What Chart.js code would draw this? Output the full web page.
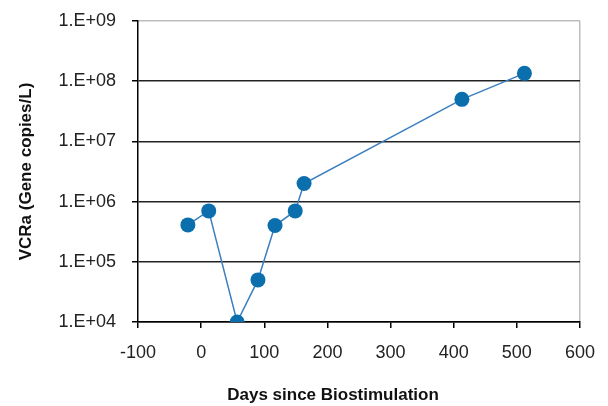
<!DOCTYPE html>
<html>
<head>
<meta charset="utf-8">
<script src="https://cdn.jsdelivr.net/npm/chart.js@4/dist/chart.umd.min.js"></script>
<style>
  html, body { margin: 0; padding: 0; background: #fff; }
  #wrap { width: 608px; height: 406px; }
</style>
</head>
<body>
<div id="wrap"><canvas id="c" width="608" height="406"></canvas></div>
<script>
"use strict";

// ---- data ----
const days = [-21, 12, 57, 90, 117, 149, 163, 413, 512];
const copies = [4.1e5, 7.0e5, 1.0e4, 5.0e4, 4.0e5, 7.0e5, 2.0e6, 5.0e7, 1.35e8];
const yTicks = [1e4, 1e5, 1e6, 1e7, 1e8, 1e9];
const xTicks = [-100, 0, 100, 200, 300, 400, 500, 600];

const FONT = "'Liberation Sans', Arial, sans-serif";
const LINE = "#3b7fc0";
const DOT = "#0b6fad";

function expLabel(v) {
  const e = Math.round(Math.log10(v));
  return "1.E+" + String(e).padStart(2, "0");
}

new Chart(document.getElementById("c"), {
  type: "scatter",
  data: {
    datasets: [{
      data: days.map((d, i) => ({ x: d, y: copies[i] })),
      showLine: true,
      borderColor: LINE, borderWidth: 1.5,
      pointRadius: 7.5, pointHoverRadius: 7.5,
      pointBackgroundColor: DOT, pointBorderColor: DOT, pointBorderWidth: 0,
    }],
  },
  options: {
    animation: false, responsive: false,
    layout: { padding: { left: 0, right: 28, top: 21, bottom: 0 } },
    plugins: { legend: { display: false }, tooltip: { enabled: false } },
    scales: {
      x: {
        type: "linear", min: -100, max: 600,
        afterBuildTicks: (s) => { s.ticks = xTicks.map((v) => ({ value: v })); },
        afterFit: (s) => { s.height = 84; s.paddingLeft = 0; s.paddingRight = 0; },
        border: { color: "#000", width: 1.5 },
        grid: {
          color: (c) => (c.tick && c.tick.value === 600 ? "#c0bcbc" : "transparent"),
          tickColor: "#000", tickLength: 6, lineWidth: 1.5,
        },
        ticks: { color: "#222", font: { family: FONT, size: 18 }, padding: 14, maxRotation: 0 },
        title: {
          display: true,
          text: "Days since Biostimulation" + "\u00a0".repeat(11),
          color: "#111", font: { family: FONT, size: 17, weight: "bold" },
          padding: { top: 11, bottom: 0 },
        },
      },
      y: {
        type: "logarithmic", min: 1e4, max: 1e9,
        afterBuildTicks: (s) => { s.ticks = yTicks.map((v) => ({ value: v })); },
        afterFit: (s) => { s.width = 138; s.paddingTop = 0; s.paddingBottom = 0; },
        border: { color: "#000", width: 1.5 },
        grid: {
          color: (c) => (c.tick && c.tick.value === 1e9 ? "#c0bcbc" : "#222"),
          tickColor: "#000", tickLength: 6, lineWidth: 1.5,
        },
        ticks: { color: "#222", font: { family: FONT, size: 18 }, padding: 16, callback: (v) => expLabel(v) },
        title: {
          display: true, text: "VCRa (Gene copies/L)",
          color: "#111", font: { family: FONT, size: 17, weight: "bold" },
          padding: { top: 16, bottom: 0 },
        },
      },
    },
  },
});
</script>
</body>
</html>
